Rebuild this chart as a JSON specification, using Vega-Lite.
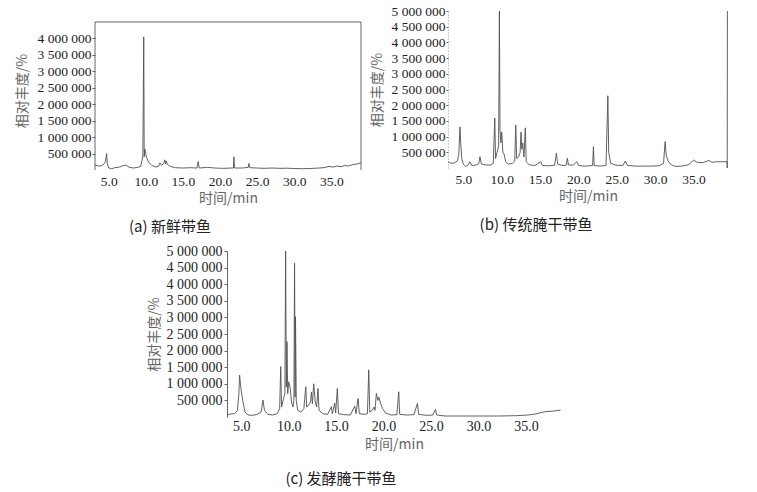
{
  "$schema": "https://vega.github.io/schema/vega-lite/v6.json",
  "padding": {"left": 15, "top": 4, "right": 0, "bottom": 0},
  "background": "white",
  "config": {
    "view": {"stroke": null},
    "axis": {"labelFont": "Liberation Serif", "labelFontSize": 13.5, "labelColor": "#222", "labelOverlap": false, "titleFont": "Noto Sans CJK SC", "titleFontSize": 14, "titleColor": "#666", "titleFontWeight": "normal", "grid": false, "domainColor": "#666", "tickColor": "#666"},
    "title": {"font": "Noto Sans CJK SC", "fontSize": 15, "fontWeight": "normal", "color": "#222"}
  },
  "datasets": {
    "a": [
      {"t":3.15,"v":150000},{"t":3.6,"v":120000},{"t":4.0,"v":130000},{"t":4.3,"v":170000},{"t":4.55,"v":250000},{"t":4.72,"v":500000},{"t":4.8,"v":200000},{"t":5.0,"v":60000},{"t":5.4,"v":40000},{"t":5.8,"v":70000},{"t":6.3,"v":80000},{"t":6.9,"v":130000},{"t":7.3,"v":150000},{"t":7.7,"v":90000},{"t":8.3,"v":60000},{"t":8.9,"v":80000},{"t":9.3,"v":110000},{"t":9.5,"v":300000},{"t":9.6,"v":450000},{"t":9.72,"v":4050000},{"t":9.78,"v":400000},{"t":9.85,"v":640000},{"t":9.95,"v":550000},{"t":10.1,"v":380000},{"t":10.4,"v":230000},{"t":10.8,"v":140000},{"t":11.3,"v":90000},{"t":11.7,"v":110000},{"t":11.9,"v":220000},{"t":12.1,"v":140000},{"t":12.4,"v":200000},{"t":12.55,"v":310000},{"t":12.65,"v":180000},{"t":12.75,"v":280000},{"t":12.9,"v":170000},{"t":13.3,"v":110000},{"t":14.0,"v":70000},{"t":15.0,"v":60000},{"t":16.0,"v":70000},{"t":16.9,"v":60000},{"t":17.06,"v":260000},{"t":17.2,"v":60000},{"t":18.3,"v":80000},{"t":19.3,"v":60000},{"t":20.5,"v":50000},{"t":21.5,"v":60000},{"t":21.8,"v":60000},{"t":21.87,"v":400000},{"t":21.95,"v":60000},{"t":23.0,"v":60000},{"t":23.8,"v":80000},{"t":23.9,"v":200000},{"t":24.0,"v":70000},{"t":25.0,"v":60000},{"t":26.0,"v":50000},{"t":27.0,"v":60000},{"t":28.0,"v":50000},{"t":29.0,"v":55000},{"t":30.0,"v":45000},{"t":31.0,"v":40000},{"t":32.0,"v":45000},{"t":33.0,"v":55000},{"t":34.0,"v":70000},{"t":34.7,"v":110000},{"t":35.2,"v":90000},{"t":35.8,"v":120000},{"t":36.3,"v":100000},{"t":36.8,"v":140000},{"t":37.3,"v":120000},{"t":37.8,"v":160000},{"t":38.4,"v":180000},{"t":39.0,"v":220000}
    ],
    "b": [
      {"t":3.0,"v":200000},{"t":3.4,"v":150000},{"t":3.8,"v":160000},{"t":4.2,"v":220000},{"t":4.4,"v":400000},{"t":4.56,"v":1310000},{"t":4.65,"v":800000},{"t":4.8,"v":300000},{"t":5.0,"v":120000},{"t":5.3,"v":50000},{"t":5.6,"v":90000},{"t":5.86,"v":200000},{"t":6.1,"v":80000},{"t":6.6,"v":90000},{"t":7.0,"v":130000},{"t":7.17,"v":360000},{"t":7.35,"v":130000},{"t":7.9,"v":100000},{"t":8.5,"v":90000},{"t":8.9,"v":150000},{"t":9.1,"v":1590000},{"t":9.2,"v":300000},{"t":9.4,"v":500000},{"t":9.6,"v":700000},{"t":9.7,"v":5000000},{"t":9.78,"v":1200000},{"t":9.9,"v":800000},{"t":10.0,"v":1150000},{"t":10.15,"v":500000},{"t":10.35,"v":420000},{"t":10.5,"v":200000},{"t":10.9,"v":120000},{"t":11.4,"v":150000},{"t":11.7,"v":220000},{"t":11.83,"v":1370000},{"t":11.95,"v":300000},{"t":12.2,"v":350000},{"t":12.4,"v":500000},{"t":12.52,"v":1140000},{"t":12.62,"v":600000},{"t":12.74,"v":800000},{"t":12.9,"v":350000},{"t":13.08,"v":1280000},{"t":13.2,"v":200000},{"t":13.6,"v":100000},{"t":14.3,"v":80000},{"t":15.1,"v":200000},{"t":15.3,"v":80000},{"t":16.2,"v":70000},{"t":16.9,"v":90000},{"t":17.13,"v":470000},{"t":17.3,"v":120000},{"t":18.0,"v":80000},{"t":18.4,"v":90000},{"t":18.56,"v":310000},{"t":18.7,"v":100000},{"t":19.3,"v":90000},{"t":19.8,"v":200000},{"t":20.0,"v":80000},{"t":20.8,"v":60000},{"t":21.5,"v":70000},{"t":21.85,"v":80000},{"t":21.96,"v":680000},{"t":22.05,"v":80000},{"t":22.8,"v":60000},{"t":23.6,"v":80000},{"t":23.84,"v":2300000},{"t":23.95,"v":500000},{"t":24.2,"v":150000},{"t":24.9,"v":90000},{"t":25.8,"v":80000},{"t":26.1,"v":220000},{"t":26.4,"v":80000},{"t":27.5,"v":60000},{"t":28.5,"v":60000},{"t":29.5,"v":60000},{"t":30.5,"v":70000},{"t":31.1,"v":150000},{"t":31.3,"v":840000},{"t":31.45,"v":400000},{"t":31.7,"v":220000},{"t":32.1,"v":100000},{"t":32.7,"v":50000},{"t":33.5,"v":60000},{"t":34.3,"v":100000},{"t":34.7,"v":180000},{"t":35.0,"v":250000},{"t":35.5,"v":180000},{"t":36.2,"v":170000},{"t":37.0,"v":240000},{"t":37.4,"v":180000},{"t":38.0,"v":200000},{"t":38.8,"v":200000},{"t":39.38,"v":200000},{"t":39.4,"v":0},{"t":39.42,"v":5000000}
    ],
    "c": [
      {"t":3.5,"v":60000},{"t":3.9,"v":90000},{"t":4.3,"v":100000},{"t":4.6,"v":200000},{"t":4.75,"v":700000},{"t":4.83,"v":1260000},{"t":4.95,"v":900000},{"t":5.18,"v":460000},{"t":5.4,"v":150000},{"t":5.7,"v":60000},{"t":6.2,"v":50000},{"t":6.7,"v":80000},{"t":7.1,"v":150000},{"t":7.29,"v":510000},{"t":7.45,"v":200000},{"t":7.8,"v":80000},{"t":8.3,"v":60000},{"t":8.8,"v":100000},{"t":9.05,"v":250000},{"t":9.16,"v":1520000},{"t":9.25,"v":300000},{"t":9.45,"v":550000},{"t":9.6,"v":700000},{"t":9.68,"v":5000000},{"t":9.75,"v":900000},{"t":9.82,"v":2270000},{"t":9.9,"v":700000},{"t":10.0,"v":1060000},{"t":10.15,"v":900000},{"t":10.3,"v":450000},{"t":10.45,"v":300000},{"t":10.55,"v":500000},{"t":10.62,"v":4630000},{"t":10.68,"v":600000},{"t":10.72,"v":3020000},{"t":10.8,"v":500000},{"t":10.95,"v":200000},{"t":11.3,"v":150000},{"t":11.6,"v":250000},{"t":11.8,"v":910000},{"t":11.9,"v":300000},{"t":12.1,"v":350000},{"t":12.3,"v":450000},{"t":12.4,"v":750000},{"t":12.5,"v":400000},{"t":12.64,"v":1000000},{"t":12.8,"v":450000},{"t":12.95,"v":300000},{"t":13.09,"v":860000},{"t":13.2,"v":200000},{"t":13.6,"v":100000},{"t":14.1,"v":80000},{"t":14.5,"v":310000},{"t":14.6,"v":100000},{"t":14.85,"v":420000},{"t":14.95,"v":120000},{"t":15.13,"v":860000},{"t":15.25,"v":100000},{"t":15.8,"v":70000},{"t":16.5,"v":60000},{"t":16.96,"v":330000},{"t":17.1,"v":100000},{"t":17.31,"v":560000},{"t":17.45,"v":100000},{"t":18.0,"v":80000},{"t":18.3,"v":100000},{"t":18.44,"v":1420000},{"t":18.55,"v":150000},{"t":18.8,"v":200000},{"t":19.0,"v":300000},{"t":19.1,"v":200000},{"t":19.24,"v":710000},{"t":19.4,"v":500000},{"t":19.5,"v":600000},{"t":19.7,"v":400000},{"t":19.9,"v":250000},{"t":20.2,"v":120000},{"t":20.8,"v":60000},{"t":21.4,"v":70000},{"t":21.6,"v":760000},{"t":21.7,"v":80000},{"t":22.5,"v":60000},{"t":23.2,"v":70000},{"t":23.57,"v":410000},{"t":23.7,"v":80000},{"t":24.5,"v":50000},{"t":25.2,"v":60000},{"t":25.47,"v":230000},{"t":25.6,"v":60000},{"t":26.5,"v":30000},{"t":28.0,"v":30000},{"t":30.0,"v":30000},{"t":32.0,"v":30000},{"t":33.1,"v":35000},{"t":34.0,"v":40000},{"t":35.2,"v":60000},{"t":36.0,"v":90000},{"t":37.0,"v":160000},{"t":38.0,"v":180000},{"t":38.65,"v":210000}
    ]
  },
  "spacing": 9,
  "vconcat": [
    {
      "spacing": 7,
      "hconcat": [
        {
          "width": 266,
          "height": 159,
          "title": {"text": "(a) 新鲜带鱼", "orient": "bottom", "anchor": "middle", "frame": "group", "dx": -58, "offset": 14},
          "resolve": {"axis": {"x": "independent", "y": "independent"}},
          "layer": [
            {
              "data": {"name": "a"},
              "mark": {"type": "line", "color": "#505050", "strokeWidth": 0.9},
              "encoding": {
                "x": {"field": "t", "type": "quantitative", "scale": {"domain": [3.15, 39.0], "nice": false, "zero": false},
                  "axis": {"orient": "bottom", "values": [5, 10, 15, 20, 25, 30, 35], "format": ".1f", "domain": false, "ticks": false, "labelPadding": 4, "title": "时间/min", "titlePadding": 4}},
                "y": {"field": "v", "type": "quantitative", "scale": {"domain": [0, 4834459], "nice": false},
                  "axis": {"orient": "left", "values": [500000, 1000000, 1500000, 2000000, 2500000, 3000000, 3500000, 4000000], "labelOverlap": false, "labelExpr": "replace(format(datum.value, ','), regexp(',', 'g'), ' ')", "domain": false, "tickSize": 3, "labelPadding": 1, "title": "相对丰度/%", "titlePadding": 8}}
              }
            },
            {
              "data": {"values": [{}]},
              "mark": {"type": "rule", "color": "#666", "strokeWidth": 1},
              "encoding": {"x": {"datum": 3.15, "type": "quantitative", "axis": null}, "y": {"datum": 0, "type": "quantitative", "axis": null}, "y2": {"datum": 4500000}}
            },
            {
              "data": {"values": [{}]},
              "mark": {"type": "rule", "color": "#666", "strokeWidth": 1},
              "encoding": {"x": {"datum": 39.0, "type": "quantitative", "axis": null}, "y": {"datum": 0, "type": "quantitative", "axis": null}, "y2": {"datum": 4500000}}
            },
            {
              "data": {"values": [{}]},
              "mark": {"type": "rule", "color": "#666", "strokeWidth": 1},
              "encoding": {"x": {"datum": 3.15, "type": "quantitative", "axis": null}, "x2": {"datum": 39.0}, "y": {"datum": 4500000, "type": "quantitative", "axis": null}}
            }
          ]
        },
        {
          "width": 280,
          "height": 157,
          "data": {"name": "b"},
          "title": {"text": "(b) 传统腌干带鱼", "orient": "bottom", "anchor": "middle", "frame": "group", "dx": -52, "offset": 14},
          "mark": {"type": "line", "color": "#505050", "strokeWidth": 0.9},
          "encoding": {
            "x": {"field": "t", "type": "quantitative", "scale": {"domain": [3.0, 39.5], "nice": false, "zero": false},
              "axis": {"values": [5, 10, 15, 20, 25, 30, 35], "format": ".1f", "domain": false, "ticks": false, "labelPadding": 4, "title": "时间/min", "titlePadding": 4}},
            "y": {"field": "v", "type": "quantitative", "scale": {"domain": [0, 5000000], "nice": false},
              "axis": {"values": [500000, 1000000, 1500000, 2000000, 2500000, 3000000, 3500000, 4000000, 4500000, 5000000], "labelOverlap": false, "labelExpr": "replace(format(datum.value, ','), regexp(',', 'g'), ' ')", "tickSize": 2, "labelPadding": 1, "domainDash": [1, 2], "domainColor": "#999", "title": "相对丰度/%", "titlePadding": 7}}
          }
        }
      ]
    },
    {
      "spacing": 0,
      "hconcat": [
        {
          "width": 51,
          "height": 10,
          "data": {"values": [{}]},
          "mark": {"type": "point", "opacity": 0},
          "view": {"stroke": "white"}
        },
        {
          "width": 334,
          "height": 166,
          "data": {"name": "c"},
          "title": {"text": "(c) 发酵腌干带鱼", "orient": "bottom", "anchor": "middle", "frame": "group", "dx": -53, "offset": 21},
          "mark": {"type": "line", "color": "#505050", "strokeWidth": 0.9},
          "encoding": {
            "x": {"field": "t", "type": "quantitative", "scale": {"domain": [3.5, 38.7], "nice": false, "zero": false},
              "axis": {"values": [5, 10, 15, 20, 25, 30, 35], "format": ".1f", "domain": false, "ticks": false, "labelPadding": 2, "labelFontSize": 14, "title": "时间/min", "titlePadding": 4}},
            "y": {"field": "v", "type": "quantitative", "scale": {"domain": [0, 5000000], "nice": false},
              "axis": {"values": [500000, 1000000, 1500000, 2000000, 2500000, 3000000, 3500000, 4000000, 4500000, 5000000], "labelOverlap": false, "labelExpr": "replace(format(datum.value, ','), regexp(',', 'g'), ' ')", "tickSize": 3, "labelPadding": 2, "labelFontSize": 14, "title": "相对丰度/%", "titlePadding": 5}}
          }
        }
      ]
    }
  ]
}
